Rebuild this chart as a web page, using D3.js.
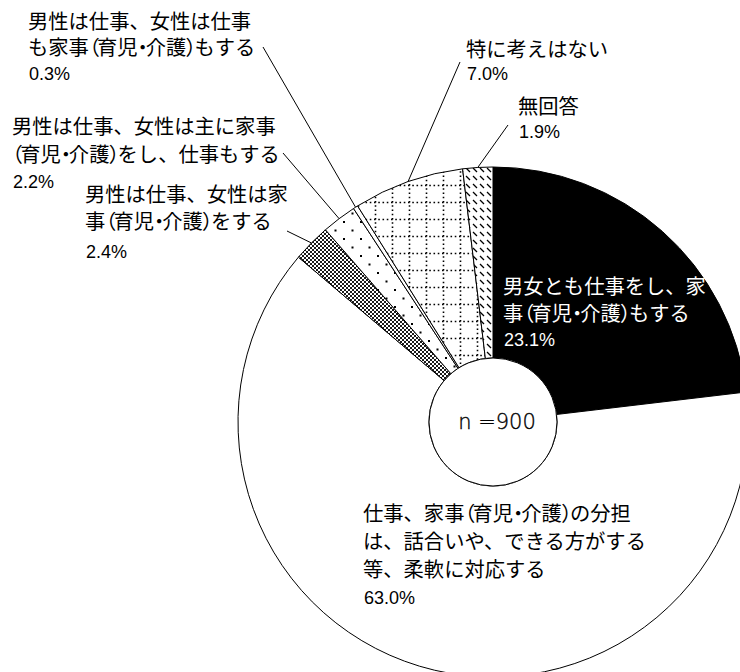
<!DOCTYPE html>
<html>
<head>
<meta charset="utf-8">
<script src="https://cdn.jsdelivr.net/npm/d3@7"></script>
<style>
  body { margin: 0; background: #fff; }
  svg { display: block; }
  .jp { font-family: "Noto Sans CJK JP", sans-serif; font-size: 20.3px; }
  .pct { font-family: "Liberation Sans Narrow", "Liberation Sans", sans-serif; font-size: 18px; }
  .narrow { font-feature-settings: "palt"; letter-spacing: -2px; }
</style>
</head>
<body>
<svg id="chart"></svg>
<script>
// answer categories, clockwise from 12 o'clock
var categories = [
    "男女とも仕事をし、家事（育児・介護）もする",
    "仕事、家事（育児・介護）の分担は、話合いや、できる方がする等、柔軟に対応する",
    "男性は仕事、女性は家事（育児・介護）をする",
    "男性は仕事、女性は主に家事（育児・介護）をし、仕事もする",
    "男性は仕事、女性は仕事も家事（育児・介護）もする",
    "特に考えはない",
    "無回答"
];
var values = [23.1, 63.0, 2.4, 2.2, 0.3, 7.0, 1.9];
// label text split as it is wrapped on the chart
var labelLines = [
    ["男女とも仕事をし、家", "事（育児・介護）もする"],
    ["仕事、家事（育児・介護）の分担", "は、話合いや、できる方がする", "等、柔軟に対応する"],
    ["男性は仕事、女性は家", "事（育児・介護）をする"],
    ["男性は仕事、女性は主に家事", "（育児・介護）をし、仕事もする"],
    ["男性は仕事、女性は仕事", "も家事（育児・介護）もする"],
    ["特に考えはない"],
    ["無回答"]
];
var sampleSize = 900;

var width = 740, height = 672;
var cx = 493, cy = 422, rOuter = 255, rInner = 64;

// where each label block sits; leader = end of the leader line on the text side
var labelPos = [
    {x: 503, y: 285, step: 27, pctGap: 28, color: "#fff"},
    {x: 363, y: 512, step: 28, pctGap: 30, color: "#000"},
    {x: 85,  y: 193, step: 27, pctGap: 32, color: "#000", leader: [287, 231]},
    {x: 12,  y: 125, step: 28, pctGap: 29, color: "#000", leader: [283, 153]},
    {x: 28,  y: 20,  step: 26, pctGap: 28, color: "#000", leader: [263, 47]},
    {x: 466, y: 48,  step: 26, pctGap: 26, color: "#000", leader: [460, 62]},
    {x: 518, y: 105, step: 26, pctGap: 27, color: "#000", leader: [508, 125]}
];

var fills = ["#000", "#fff", "url(#pCheck)", "url(#pDots)", "#fff", "url(#pGrid)", "url(#pDash)"];

var svg = d3.select("#chart")
    .attr("width", width)
    .attr("height", height);

var defs = svg.append("defs");

// dense cross hatch
var pCheck = defs.append("pattern").attr("id", "pCheck")
    .attr("patternUnits", "userSpaceOnUse").attr("width", 4).attr("height", 4);
pCheck.append("rect").attr("width", 4).attr("height", 4).attr("fill", "#fff");
pCheck.append("path").attr("d", "M0,0L4,4M4,0L0,4")
    .attr("stroke", "#000").attr("stroke-width", 0.9);

// sparse dots
var pDots = defs.append("pattern").attr("id", "pDots")
    .attr("patternUnits", "userSpaceOnUse").attr("width", 17).attr("height", 17);
pDots.append("rect").attr("width", 17).attr("height", 17).attr("fill", "#fff");
pDots.append("rect").attr("x", 3).attr("y", 3).attr("width", 2).attr("height", 2).attr("fill", "#000");
pDots.append("rect").attr("x", 11.5).attr("y", 11.5).attr("width", 2).attr("height", 2).attr("fill", "#000");

// dotted grid
var pGrid = defs.append("pattern").attr("id", "pGrid")
    .attr("patternUnits", "userSpaceOnUse").attr("width", 17).attr("height", 17);
pGrid.append("rect").attr("width", 17).attr("height", 17).attr("fill", "#fff");
pGrid.append("path").attr("d", "M0,1.5H17M1.5,0V17")
    .attr("stroke", "#000").attr("stroke-width", 1.6).attr("stroke-dasharray", "1.6,2.65");

// short backslash dashes
var pDash = defs.append("pattern").attr("id", "pDash")
    .attr("patternUnits", "userSpaceOnUse").attr("width", 7).attr("height", 8);
pDash.append("rect").attr("width", 7).attr("height", 8).attr("fill", "#fff");
pDash.append("path").attr("d", "M1,2L5,6")
    .attr("stroke", "#000").attr("stroke-width", 1.3);

var pie = d3.pie().sort(null).value(function(d) { return d; });
var arcs = pie(values);

var arc = d3.arc().innerRadius(rInner).outerRadius(rOuter);

var g = svg.append("g").attr("transform", "translate(" + cx + "," + cy + ")");

g.selectAll("path.slice").data(arcs).enter().append("path")
    .attr("class", "slice")
    .attr("d", arc)
    .attr("fill", function(d, i) { return fills[i]; })
    .attr("stroke", "#000")
    .attr("stroke-width", 1);

// centre hole
g.append("circle").attr("r", rInner)
    .attr("fill", "#fff").attr("stroke", "#000").attr("stroke-width", 1);
g.append("text")
    .attr("x", 4).attr("y", 0)
    .attr("text-anchor", "middle")
    .attr("dominant-baseline", "central")
    .attr("font-family", "DejaVu Sans")
    .attr("font-weight", 200)
    .attr("font-size", "21px")
    .attr("stroke", "#000").attr("stroke-width", 0.35)
    .text("n =" + sampleSize);

// leader lines for the small slices
arcs.forEach(function(d, i) {
    var p = labelPos[i];
    if (!p.leader) return;
    var a = (d.startAngle + d.endAngle) / 2;
    svg.append("line")
        .attr("x1", p.leader[0]).attr("y1", p.leader[1])
        .attr("x2", cx + rOuter * Math.sin(a))
        .attr("y2", cy - rOuter * Math.cos(a))
        .attr("stroke", "#000").attr("stroke-width", 1);
});

// split a line into runs so brackets and middle dots get proportional width
function addRuns(sel, str) {
    var re = /([（）・]+)|([^（）・]+)/g, m;
    while ((m = re.exec(str)) !== null) {
        sel.append("tspan")
            .attr("class", m[1] ? "narrow" : null)
            .text(m[0]);
    }
}

var fmt = d3.format(".1f");

labelPos.forEach(function(p, i) {
    var lines = labelLines[i];
    lines.forEach(function(line, k) {
        var t = svg.append("text")
            .attr("class", "jp")
            .attr("x", p.x)
            .attr("y", p.y + k * p.step)
            .attr("dominant-baseline", "central")
            .attr("fill", p.color);
        addRuns(t, line);
    });
    svg.append("text")
        .attr("class", "pct")
        .attr("x", p.x + 1)
        .attr("y", p.y + (lines.length - 1) * p.step + p.pctGap)
        .attr("dominant-baseline", "central")
        .attr("fill", p.color)
        .text(fmt(values[i]) + "%");
});
</script>
</body>
</html>
